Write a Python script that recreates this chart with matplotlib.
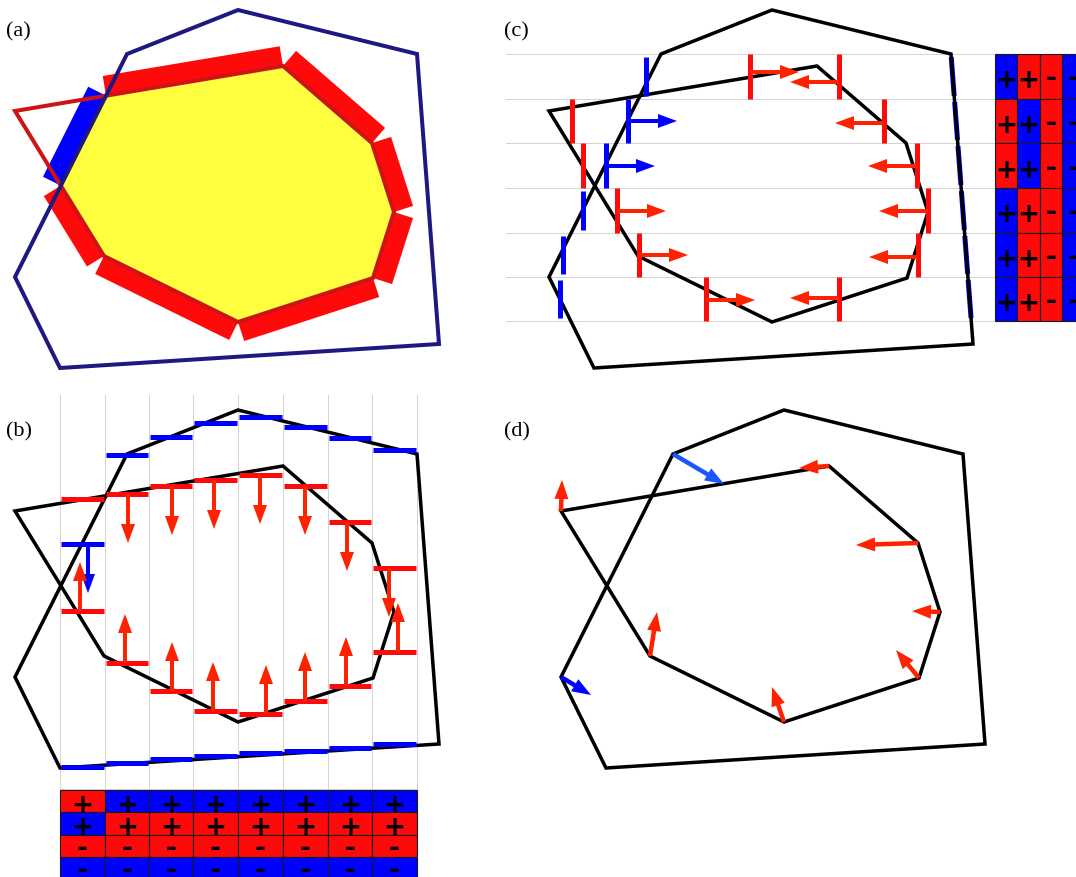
import numpy as np
import matplotlib
matplotlib.use('Agg')
import matplotlib.pyplot as plt
from matplotlib.patches import Polygon, Rectangle, FancyArrow

W, H = 1076, 877
PX = 72.0 / 100.0  # points per pixel at dpi=100

# ---------------- data ----------------
# base shapes (pixel frame of panel (a))
outer_x = [238, 417, 439, 60, 15, 127]
outer_y = [10, 54, 344, 368, 277, 54]
inner_x = [283, 372, 394, 373, 238, 104, 15]
inner_y = [66, 143, 212, 278, 322, 256, 111]

panel_labels = ['(a)', '(b)', '(c)', '(d)']
panel_dx = [0, 0, 534, 546]
panel_dy = [0, 400, 0, 400]

# panel (b): vertical strips, crossings top->bottom
b_columns = [60, 105, 149, 193, 238, 283, 328, 372, 417]
b_cross_y = [
    [499, 544, 611, 767],
    [455, 494, 663, 763],
    [437, 486, 691, 759],
    [423, 480, 711, 756],
    [417, 475, 714, 753],
    [427, 486, 701, 751],
    [438, 522, 686, 748],
    [450, 568, 652, 744],
]
b_cross_src = [
    ['in', 'out', 'in', 'out'],
    ['out', 'in', 'in', 'out'],
    ['out', 'in', 'in', 'out'],
    ['out', 'in', 'in', 'out'],
    ['out', 'in', 'in', 'out'],
    ['out', 'in', 'in', 'out'],
    ['out', 'in', 'in', 'out'],
    ['out', 'in', 'in', 'out'],
]
b_down_x = [88, 128, 172, 214, 260, 305, 347, 389]
b_up_x = [80, 125, 172, 213, 266, 305, 346, 398]
signs = ['+', '+', '-', '-']

# panel (c): horizontal strips, crossings left->right (4th lies on outer right edge)
c_rows = [54, 99, 143, 188, 233, 277, 321]
c_cross_x = [
    [646, 750, 839],
    [572, 628, 884],
    [583, 606, 917],
    [583, 617, 928],
    [563, 639, 918],
    [560, 706, 839],
]
c_cross_src = [
    ['out', 'in', 'in', 'out'],
    ['in', 'out', 'in', 'out'],
    ['in', 'out', 'in', 'out'],
    ['out', 'in', 'in', 'out'],
    ['out', 'in', 'in', 'out'],
    ['out', 'in', 'in', 'out'],
]
c_right_y = [72, 121, 166, 211, 255, 300]
c_left_y = [82, 123, 166, 211, 257, 298]

# panel (d): vectors at vertices
d_inner_dx = [-30, -62, -28, -23, -12, 7, 1]
d_inner_dy = [2, 2, -1, -28, -35, -44, -31]
d_outer_idx = [5, 4]
d_outer_dx = [51, 30]
d_outer_dy = [30, 18]

# ---------------- styles ----------------
RED_BAR = '#ff0a0a'
RED_ARR = '#ff2200'
BLUE = '#0000ff'
BLUE_LIGHT = '#1a55ff'
YELLOW = '#ffff40'
NAVY = '#1e1880'
DARKRED = '#cc1414'
GRID = '#d4d4d4'
ARROW_LEN = 49
SIGN_FONT = dict(fontsize=19, fontweight='bold', family='DejaVu Sans', color='black')

fig = plt.figure(figsize=(W / 100, H / 100), dpi=100)
ax = fig.add_axes([0, 0, 1, 1])
ax.set_xlim(0, W)
ax.set_ylim(H, 0)
ax.axis('off')

outer = np.column_stack([outer_x, outer_y]).astype(float)
inner = np.column_stack([inner_x, inner_y]).astype(float)


def shifted(poly, i):
    return poly + np.array([panel_dx[i], panel_dy[i]], float)


def outline(poly, color, lw_px, z):
    ax.add_patch(Polygon(poly, closed=True, fill=False, edgecolor=color,
                         lw=lw_px * PX, joinstyle='miter', zorder=z))


def arrow(x, y, dx, dy, color, z=6, w=4.0, hl=19, hw=14):
    ax.add_patch(FancyArrow(x, y, dx, dy, width=w, head_length=hl, head_width=hw,
                            length_includes_head=True, color=color, lw=0, zorder=z))


def sign_text(x, y, s):
    dy = 5 if s == '+' else 3
    ax.text(x, y + dy, s, ha='center', va='center', zorder=6, **SIGN_FONT)


def cross2(a, b):
    return a[0] * b[1] - a[1] * b[0]


def clip_poly(subject, clipper):
    area = 0.5 * sum(cross2(clipper[i], clipper[(i + 1) % len(clipper)]) for i in range(len(clipper)))
    s = np.sign(area)
    out = [p for p in subject]
    for i in range(len(clipper)):
        a, b = clipper[i], clipper[(i + 1) % len(clipper)]
        inp = out
        out = []
        if not inp:
            break

        def inside(p):
            return s * cross2(b - a, p - a) >= 0

        def inter(p, q):
            d1 = cross2(b - a, p - a)
            d2 = cross2(b - a, q - a)
            t = d1 / (d1 - d2)
            return p + t * (q - p)
        prev = inp[-1]
        for cur in inp:
            if inside(cur):
                if not inside(prev):
                    out.append(inter(prev, cur))
                out.append(cur)
            elif inside(prev):
                out.append(inter(prev, cur))
            prev = cur
    return np.array(out)


def dist_to_boundary(p, poly):
    best = 1e9
    for i in range(len(poly)):
        a, b = poly[i], poly[(i + 1) % len(poly)]
        ab = b - a
        t = np.clip(np.dot(p - a, ab) / np.dot(ab, ab), 0, 1)
        best = min(best, np.linalg.norm(p - (a + t * ab)))
    return best


# ---------------- panel (a) ----------------
oa, ia = shifted(outer, 0), shifted(inner, 0)
yel = clip_poly(list(ia), oa)
ax.add_patch(Polygon(yel, closed=True, facecolor=YELLOW, edgecolor='none', zorder=1))
cen = yel.mean(axis=0)
for i in range(len(yel)):
    A, B = yel[i], yel[(i + 1) % len(yel)]
    d = (B - A) / np.linalg.norm(B - A)
    n = np.array([-d[1], d[0]])
    mid = 0.5 * (A + B)
    if np.dot(n, mid - cen) < 0:
        n = -n
    from_outer = dist_to_boundary(mid, oa) < 0.5
    col = BLUE if from_outer else RED_BAR
    rect = [A - n * 1, B - n * 1, B + n * 20, A + n * 20]
    ax.add_patch(Polygon(rect, closed=True, facecolor=col, edgecolor='none',
                         zorder=2 if from_outer else 2.5))
outline(ia, DARKRED, 4, 3)
outline(oa, NAVY, 4, 4)

# ---------------- panel (b) ----------------
ob, ib = shifted(outer, 1), shifted(inner, 1)
for x in b_columns:
    ax.plot([x, x], [395, 790], color=GRID, lw=1 * PX, zorder=0.5)
ax.plot([b_columns[0], b_columns[-1]], [789, 789], color=GRID, lw=1 * PX, zorder=0.5)
outline(ob, 'black', 3.5, 3)
outline(ib, 'black', 3.5, 3)
for i in range(len(b_columns) - 1):
    xl, xr = b_columns[i], b_columns[i + 1]
    for k in range(4):
        col = RED_BAR if b_cross_src[i][k] == 'in' else BLUE
        ax.plot([xl + 1, xr - 1], [b_cross_y[i][k]] * 2, color=col, lw=5 * PX,
                solid_capstyle='butt', zorder=4)
    c1 = RED_ARR if b_cross_src[i][1] == 'in' else BLUE
    c2 = RED_ARR if b_cross_src[i][2] == 'in' else BLUE
    arrow(b_down_x[i], b_cross_y[i][1], 0, ARROW_LEN, c1)
    arrow(b_up_x[i], b_cross_y[i][2], 0, -ARROW_LEN, c2)
# table (b)
cell_h = 22.3
for i in range(len(b_columns) - 1):
    xl, xr = b_columns[i], b_columns[i + 1]
    for k in range(4):
        col = RED_BAR if b_cross_src[i][k] == 'in' else BLUE
        y0 = 790 + k * cell_h
        ax.add_patch(Rectangle((xl, y0), xr - xl, cell_h, facecolor=col,
                               edgecolor='#1a1a1a', lw=0.8, zorder=5))
        sign_text((xl + xr) / 2, y0 + cell_h / 2, signs[k])

# ---------------- panel (c) ----------------
oc, ic = shifted(outer, 2), shifted(inner, 2)
for y in c_rows:
    ax.plot([506, 995], [y, y], color=GRID, lw=1 * PX, zorder=0.5)
# right outer edge (vertex 1 -> vertex 2) used for 4th crossing
ex = [oc[1, 0], oc[2, 0]]
ey = [oc[1, 1], oc[2, 1]]
for r in range(len(c_rows) - 1):
    y0, y1 = c_rows[r], c_rows[r + 1]
    for k in range(3):
        src = c_cross_src[r][k]
        col = RED_BAR if src == 'in' else BLUE
        inset = 3 if (src == 'out' and k == 0) else 0
        ax.plot([c_cross_x[r][k]] * 2, [y0 + inset, y1 - inset], color=col, lw=5 * PX,
                solid_capstyle='butt', zorder=4)
    ya, yb = y0 + 3, y1 - 3
    ax.plot([np.interp(ya, ey, ex), np.interp(yb, ey, ex)], [ya, yb], color=BLUE,
            lw=5 * PX, solid_capstyle='butt', zorder=2.8)
    c1 = RED_ARR if c_cross_src[r][1] == 'in' else BLUE
    c2 = RED_ARR if c_cross_src[r][2] == 'in' else BLUE
    arrow(c_cross_x[r][1], c_right_y[r], ARROW_LEN, 0, c1)
    arrow(c_cross_x[r][2], c_left_y[r], -ARROW_LEN, 0, c2)
outline(oc, 'black', 3.5, 3)
outline(ic, 'black', 3.5, 3)
cell_w = 22.4
for r in range(len(c_rows) - 1):
    y0, y1 = c_rows[r], c_rows[r + 1]
    for k in range(4):
        col = RED_BAR if c_cross_src[r][k] == 'in' else BLUE
        x0 = 995 + k * cell_w
        ax.add_patch(Rectangle((x0, y0), cell_w, y1 - y0, facecolor=col,
                               edgecolor='#1a1a1a', lw=0.8, zorder=5))
        sign_text(x0 + cell_w / 2, (y0 + y1) / 2, signs[k])

# ---------------- panel (d) ----------------
od, idd = shifted(outer, 3), shifted(inner, 3)
outline(od, 'black', 3.5, 3)
outline(idd, 'black', 3.5, 3)
for j in range(len(idd)):
    arrow(idd[j, 0], idd[j, 1], d_inner_dx[j], d_inner_dy[j], RED_ARR, w=4.5)
blue_cols = [BLUE_LIGHT, BLUE]
for m, j in enumerate(d_outer_idx):
    arrow(od[j, 0], od[j, 1], d_outer_dx[m], d_outer_dy[m], blue_cols[m], w=4.5)

# ---------------- labels ----------------
for i, lab in enumerate(panel_labels):
    lx = 6 if panel_dx[i] == 0 else 504
    ly = 36 + panel_dy[i]
    ax.text(lx, ly, lab, family='Liberation Serif', fontsize=16, ha='left',
            va='baseline', color='black', zorder=7)

fig.savefig('out.png', dpi=100)
